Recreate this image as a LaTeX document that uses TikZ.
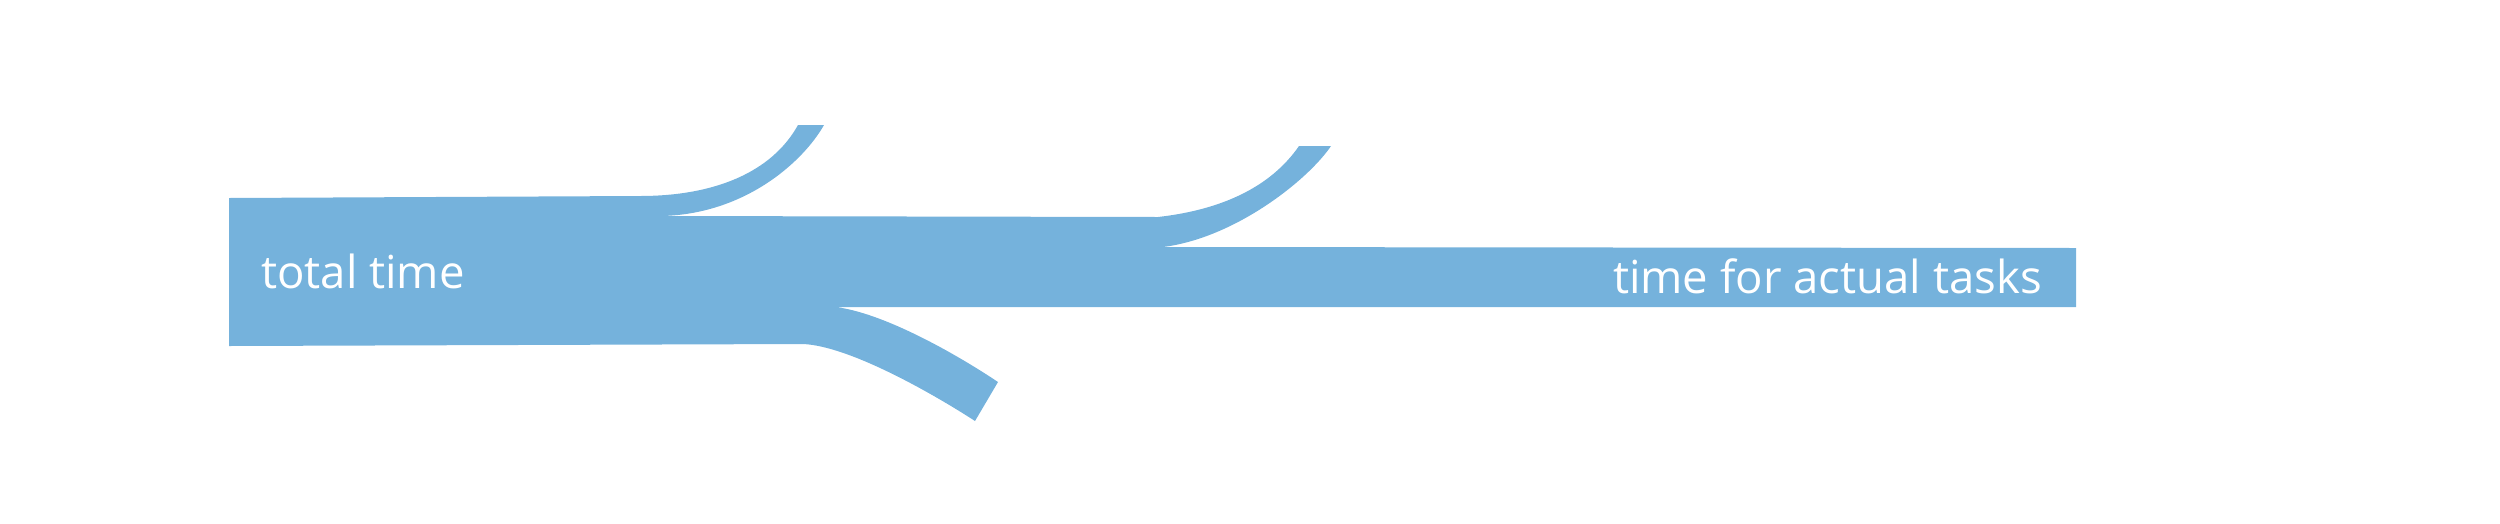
\documentclass[tikz,border=0pt]{standalone}
\usepackage{fontspec}
\setmainfont{Open Sans}
\definecolor{flowblue}{RGB}{117,178,220}
\begin{document}
\begin{tikzpicture}[x=1pt,y=-1pt,
  flow/.style={fill=flowblue,draw=none},
  flowlabel/.style={text=white,font=\fontsize{45.5}{54}\selectfont,inner sep=0pt}]
\useasboundingbox (0,0) rectangle (2500,523);
% the whole Sankey band
\path[flow]
  (229,198) -- (640,196)
  .. controls (715,196) and (772,172) .. (798,125)
  -- (824,125)
  .. controls (803,162) and (745,214) .. (662,216)
  -- (1158,217)
  .. controls (1220,210) and (1270,188) .. (1299,146)
  -- (1331,146)
  .. controls (1308,180) and (1235,238) .. (1163,247)
  -- (2076,248) -- (2076,307) -- (835,307)
  .. controls (880,312) and (950,350) .. (998,382)
  -- (975,421)
  .. controls (935,395) and (850,346) .. (803,344)
  -- (229,346) -- cycle;
\node[flowlabel,anchor=base west] (total) at (261,288) {total time};
\node[flowlabel,anchor=base east] (tasks) at (2042,293) {time for actual tasks};
\end{tikzpicture}
\end{document}
